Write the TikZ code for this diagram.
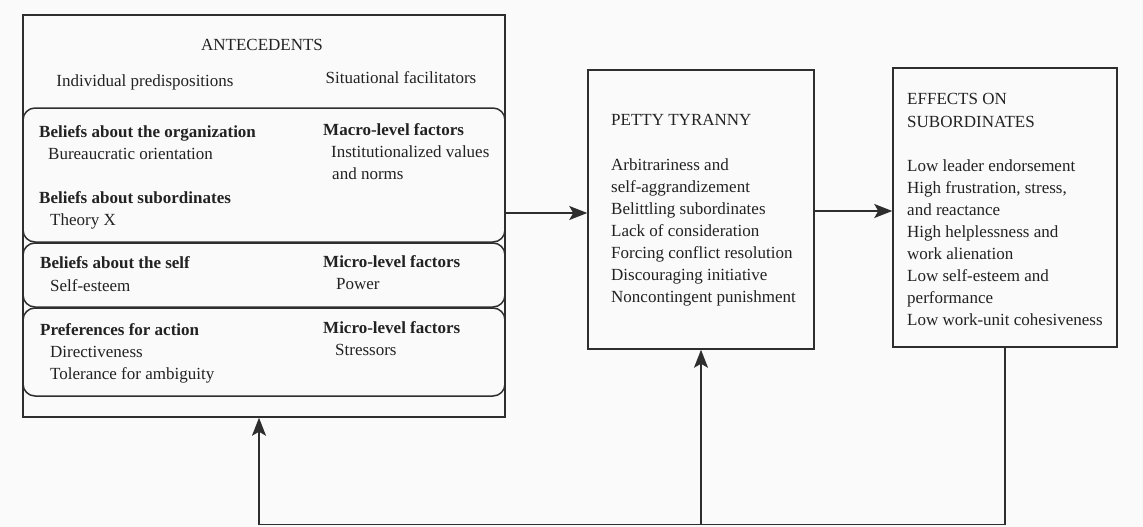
\documentclass[tikz,border=0pt]{standalone}
\usepackage{fontspec}
\setmainfont{Liberation Serif}
\usetikzlibrary{arrows.meta}
\definecolor{linec}{HTML}{2E2E2E}
\definecolor{txtc}{HTML}{222222}
\definecolor{bgc}{HTML}{FAFAFA}
\begin{document}
\begin{tikzpicture}[x=1pt,y=-1pt,
  ln/.style={draw=linec, line width=1.5pt},
  arr/.style={ln, -{Stealth[length=18pt,width=14pt,inset=4pt]}},
  boxnode/.style={ln, rectangle, inner sep=0pt},
  panel/.style={ln, rectangle, rounded corners=12pt, inner sep=0pt, minimum width=482pt},
  txt/.style={anchor=base west, inner sep=0pt, font=\fontsize{17}{22}\selectfont, text=txtc},
  ctxt/.style={txt, anchor=base},
  hd/.style={txt, font=\fontsize{17}{22}\selectfont\bfseries}]
\useasboundingbox (0,0) rectangle (1143,527);
\fill[bgc] (0,0) rectangle (1143,527);

% boxes
\node[boxnode, minimum width=482pt, minimum height=402pt] (ante) at (264,216) {};
\node[panel, minimum height=134pt] (p1) at (264,175) {};
\node[panel, minimum height=64pt] (p2) at (264,275) {};
\node[panel, minimum height=88pt] (p3) at (264,352) {};
\node[boxnode, minimum width=226pt, minimum height=279pt] (tyr) at (701,209.5) {};
\node[boxnode, minimum width=224pt, minimum height=279pt] (eff) at (1005,207.5) {};

% antecedents texts
\node[ctxt] (a0) at (262,51) {ANTECEDENTS};
\node[ctxt] (a1) at (145,86) {Individual predispositions};
\node[ctxt] (a2) at (401,84) {Situational facilitators};
\node[hd]  (b1) at (39,137) {Beliefs about the organization};
\node[txt] (b2) at (48,159) {Bureaucratic orientation};
\node[hd]  (b3) at (39,203) {Beliefs about subordinates};
\node[txt] (b4) at (50,225) {Theory X};
\node[hd]  (c1) at (323,135) {Macro-level factors};
\node[txt] (c2) at (331,157) {Institutionalized values};
\node[txt] (c3) at (332,179) {and norms};
\node[hd]  (b5) at (40,268) {Beliefs about the self};
\node[txt] (b6) at (50,291) {Self-esteem};
\node[hd]  (c4) at (323,267) {Micro-level factors};
\node[txt] (c5) at (336,289) {Power};
\node[hd]  (b7) at (40,335) {Preferences for action};
\node[txt] (b8) at (50,357) {Directiveness};
\node[txt] (b9) at (50,379) {Tolerance for ambiguity};
\node[hd]  (c6) at (323,333) {Micro-level factors};
\node[txt] (c7) at (335,355) {Stressors};

% petty tyranny texts
\node[txt] (m0) at (611,125) {PETTY TYRANNY};
\foreach \t [count=\i from 0] in {Arbitrariness and, self-aggrandizement, Belittling subordinates, Lack of consideration, Forcing conflict resolution, Discouraging initiative, Noncontingent punishment}
  \node[txt] (m\i x) at (611,170+22*\i) {\t};

% effects texts
\node[txt] (e0) at (907,104) {EFFECTS ON};
\node[txt] (e1) at (907,127) {SUBORDINATES};
\foreach \t [count=\i from 0] in {Low leader endorsement, {High frustration, stress,}, and reactance, High helplessness and, work alienation, Low self-esteem and, performance, Low work-unit cohesiveness}
  \node[txt] (r\i x) at (907,171+22*\i) {\t};

% connectors
\draw[arr] ([yshift=3pt]ante.east) -- ([yshift=3pt]ante.east -| tyr.west);
\draw[arr] ([yshift=-1.5pt]tyr.east) -- ([yshift=-1.5pt]tyr.east -| eff.west);
\coordinate (fbL) at (259,524.5);
\draw[arr] (eff.south) |- (fbL) -- (fbL |- ante.south);
\draw[arr] (tyr.south |- fbL) -- (tyr.south);
\end{tikzpicture}
\end{document}
